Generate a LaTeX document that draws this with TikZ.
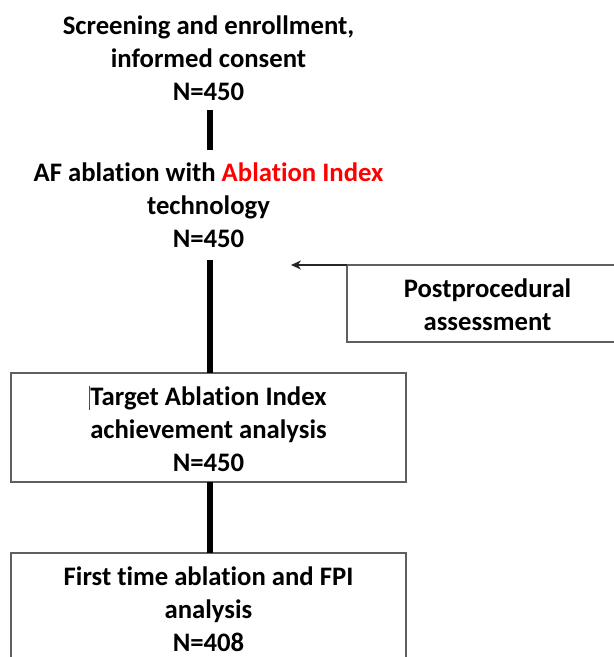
\documentclass[tikz,border=0pt]{standalone}
\usepackage{fontspec}
\setmainfont{Carlito}[RawFeature={-liga;-clig;-dlig}]
\usetikzlibrary{arrows.meta}
\definecolor{boxgray}{HTML}{5F5F5F}
\definecolor{ared}{HTML}{FF0000}
\tikzset{
  lbl/.style={font=\bfseries\fontsize{26.7}{33}\selectfont, align=center, inner sep=0pt},
  frame/.style={draw=boxgray, line width=1.5pt},
  bar/.style={line width=6pt, black},
  arr/.style={line width=1.4pt, black!85, -{Stealth[length=10pt,width=9pt]}}
}
\begin{document}
\begin{tikzpicture}[x=1pt,y=-1pt]
\useasboundingbox (0,0) rectangle (614,657);
\clip (0,0) rectangle (614,657);
\fill[white] (0,0) rectangle (614,657);
% boxes
\draw[frame] (11,373) rectangle (406,482);
\draw[frame] (11,553) rectangle (406,720);
\draw[frame] (720,265) -- (347,265) -- (347,342) -- (720,342);
\coordinate (ppnw) at (347,265);
\coordinate (arrtip) at (291,265);
% texts
\node[lbl] (t1) at (208.5,58) {Screening and enrollment,\\informed consent\\N=450};
\node[lbl] (t2) at (208.5,205) {AF ablation with \textcolor{ared}{Ablation Index}\\technology\\N=450};
\node[lbl] (pp) at (487.5,305) {Postprocedural\\assessment};
\node[lbl] (t3) at (208.5,429) {Target Ablation Index\\achievement analysis\\N=450};
\node[lbl] (t4) at (208.5,609) {First time ablation and FPI\\analysis\\N=408};
% connector coordinates
\coordinate (c1a) at (210,110);
\coordinate (c1b) at (210,150);
\coordinate (c2a) at (210,260);
\coordinate (c2b) at (210,373);
\coordinate (c3a) at (210,482);
\coordinate (c3b) at (210,553);
\draw[bar] (c1a) -- (c1b);
\draw[bar] (c2a) -- (c2b);
\draw[bar] (c3a) -- (c3b);
\draw[arr] (ppnw) -- (arrtip);
% text cursor
\coordinate (cur1) at (89.5,386);
\coordinate (cur2) at (89.5,410);
\draw[black!70, line width=0.8pt] (cur1) -- (cur2);
\end{tikzpicture}
\end{document}
